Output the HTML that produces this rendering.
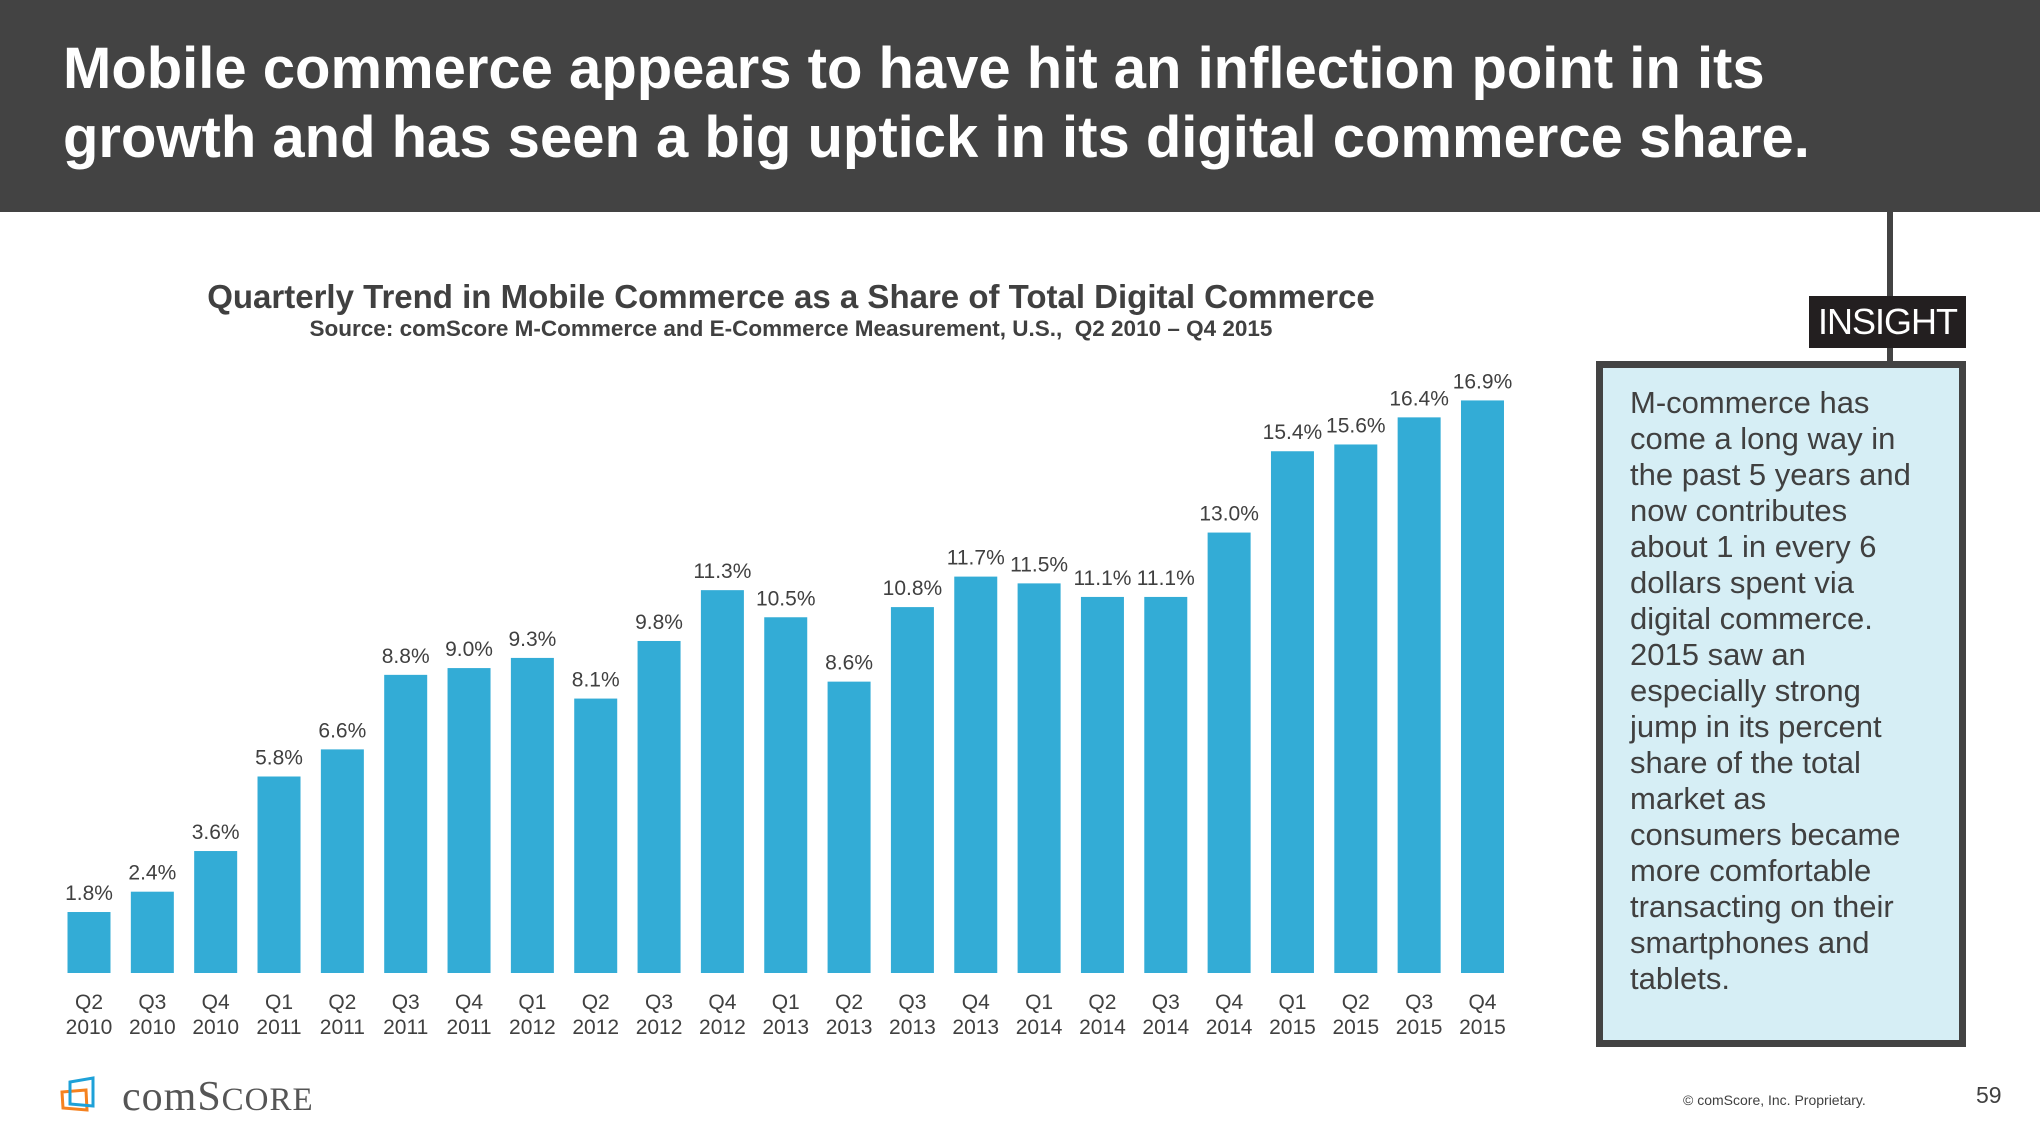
<!DOCTYPE html>
<html><head><meta charset="utf-8"><style>
body{margin:0;width:2040px;height:1148px;background:#fff;position:relative;overflow:hidden;font-family:"Liberation Sans",Arial,sans-serif}
.abs{position:absolute}
</style></head><body>
<div class="abs" style="left:0;top:0;width:2040px;height:212px;background:#434343"></div>
<div class="abs" style="left:63px;top:34px;color:#fff;font-weight:bold;font-size:58px;line-height:69px">Mobile commerce appears to have hit an inflection point in its<br>growth and has seen a big uptick in its digital commerce share.</div>
<div class="abs" style="left:0;width:1582px;text-align:center;top:278px;font-weight:bold;font-size:33px;color:#404040">Quarterly Trend in Mobile Commerce as a Share of Total Digital Commerce</div>
<div class="abs" style="left:0;width:1582px;text-align:center;top:316px;font-weight:bold;font-size:22.5px;color:#404040">Source: comScore M-Commerce and E-Commerce Measurement, U.S.,&nbsp; Q2 2010 – Q4 2015</div>
<svg class="abs" style="left:0;top:0" width="2040" height="1148" id="chart"></svg>
<div class="abs" style="left:1887px;top:210px;width:6px;height:155px;background:#434343"></div>
<div class="abs" style="left:1809px;top:296px;width:157px;height:52px;background:#231f20;color:#fff;font-size:36px;line-height:52px;text-align:center;letter-spacing:-1px">INSIGHT</div>
<div class="abs" style="left:1596px;top:361px;width:356px;height:672px;background:#d6eef5;border:7px solid #434343"></div>
<div class="abs" style="left:1630px;top:385px;width:330px;font-size:31px;line-height:36px;color:#404040;white-space:nowrap">M-commerce has<br>come a long way in<br>the past 5 years and<br>now contributes<br>about 1 in every 6<br>dollars spent via<br>digital commerce.<br>2015 saw an<br>especially strong<br>jump in its percent<br>share of the total<br>market as<br>consumers became<br>more comfortable<br>transacting on their<br>smartphones and<br>tablets.</div>
<svg class="abs" style="left:60px;top:1070px" width="300" height="50">
<path d="M2 22 L26 20 L27 40 L3 38 Z" fill="none" stroke="#f58220" stroke-width="3"/>
<path d="M10 12 L33 8 L33 36 L10 34 Z" fill="none" stroke="#1ea1d8" stroke-width="3"/>
<text x="62" y="40" font-family="Liberation Serif,serif" font-size="42" fill="#555" letter-spacing="1">com<tspan font-size="42">S</tspan><tspan font-size="33">CORE</tspan></text>
</svg>
<div class="abs" style="left:1683px;top:1092px;font-size:14px;color:#404040">© comScore, Inc. Proprietary.</div>
<div class="abs" style="left:1976px;top:1082px;font-size:23px;color:#404040">59</div>
<script>
const quarters=["Q2","Q3","Q4","Q1","Q2","Q3","Q4","Q1","Q2","Q3","Q4","Q1","Q2","Q3","Q4","Q1","Q2","Q3","Q4","Q1","Q2","Q3","Q4"];
const years=["2010","2010","2010","2011","2011","2011","2011","2012","2012","2012","2012","2013","2013","2013","2013","2014","2014","2014","2014","2015","2015","2015","2015"];
const shares=[1.8,2.4,3.6,5.8,6.6,8.8,9.0,9.3,8.1,9.8,11.3,10.5,8.6,10.8,11.7,11.5,11.1,11.1,13.0,15.4,15.6,16.4,16.9];
const svg=document.getElementById('chart');
const NS='http://www.w3.org/2000/svg';
const x0=89,pitch=63.34,bw=43,base=973,ppu=33.88;
const xs=i=>x0+i*pitch;
const ys=v=>base-v*ppu;
function mk(t,a){const e=document.createElementNS(NS,t);for(const k in a)e.setAttribute(k,a[k]);svg.appendChild(e);return e;}
shares.forEach((v,i)=>{
 const r=mk('rect',{x:xs(i)-bw/2,y:ys(v),width:bw,height:base-ys(v),fill:'#33acd6'});
 
 
 const t=mk('text',{x:xs(i),y:ys(v)-12,'text-anchor':'middle','font-size':21,fill:'#404040'});
 t.textContent=v.toFixed(1)+'%';
 
 
 const q=mk('text',{x:xs(i),y:1009,'text-anchor':'middle','font-size':21,fill:'#404040'});
 q.textContent=quarters[i];
 
 
 const y=mk('text',{x:xs(i),y:1034,'text-anchor':'middle','font-size':21,fill:'#404040'});
 y.textContent=years[i];
 
 
});
</script>
</body></html>
